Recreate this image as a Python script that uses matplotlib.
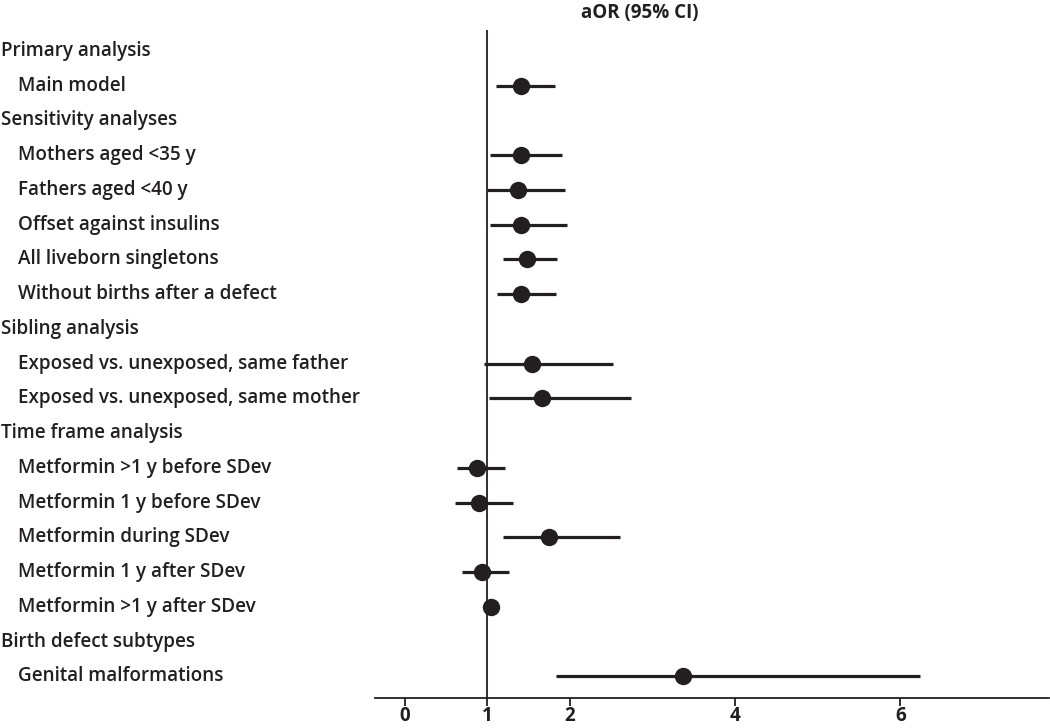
import matplotlib
matplotlib.use("Agg")
import matplotlib.pyplot as plt
import matplotlib.transforms as mtransforms

plt.rcParams['font.family'] = ['Open Sans', 'DejaVu Sans']

# rows: (label, is_heading)
labels = [
    "Primary analysis",
    "Main model",
    "Sensitivity analyses",
    "Mothers aged <35 y",
    "Fathers aged <40 y",
    "Offset against insulins",
    "All liveborn singletons",
    "Without births after a defect",
    "Sibling analysis",
    "Exposed vs. unexposed, same father",
    "Exposed vs. unexposed, same mother",
    "Time frame analysis",
    "Metformin >1 y before SDev",
    "Metformin 1 y before SDev",
    "Metformin during SDev",
    "Metformin 1 y after SDev",
    "Metformin >1 y after SDev",
    "Birth defect subtypes",
    "Genital malformations",
]
heading = [True, False, True, False, False, False, False, False, True, False, False,
           True, False, False, False, False, False, True, False]

# estimates (None for heading rows)
aor = [None, 1.41, None, 1.41, 1.37, 1.41, 1.48, 1.41, None, 1.54, 1.66,
       None, 0.87, 0.90, 1.75, 0.93, 1.05, None, 3.37]
ci_low = [None, 1.10, None, 1.03, 0.99, 1.03, 1.19, 1.12, None, 0.96, 1.02,
          None, 0.63, 0.61, 1.19, 0.69, 1.01, None, 1.83]
ci_high = [None, 1.82, None, 1.90, 1.94, 1.96, 1.84, 1.83, None, 2.52, 2.74,
           None, 1.21, 1.31, 2.61, 1.26, 1.09, None, 6.24]

xticks = [0, 1, 2, 4, 6]

ink = '#231f20'

fig = plt.figure(figsize=(10.5, 7.28), dpi=100)
ax = fig.add_axes([375 / 1050, 1 - 698 / 728, (1049 - 375) / 1050, (698 - 30) / 728])

for i, (est, lo, hi) in enumerate(zip(aor, ci_low, ci_high)):
    if est is None:
        continue
    ax.plot([lo, hi], [i, i], color=ink, lw=2.3, solid_capstyle='butt', zorder=3)
    ax.plot(est, i, 'o', color=ink, markersize=11.5, zorder=4)

ax.axvline(1, color=ink, lw=1.3, zorder=2)

ax.set_xlim(-0.36, 7.8)
ax.set_ylim(18.62, -0.6)
ax.set_yticks([])
ax.set_xticks(xticks)
ax.set_xticklabels([str(t) for t in xticks], fontsize=13.5, fontweight='bold', color=ink)
ax.tick_params(axis='x', direction='out', length=5.5, width=1.3, color=ink, pad=0.5)
for s in ['top', 'right', 'left']:
    ax.spines[s].set_visible(False)
ax.spines['bottom'].set_linewidth(1.3)
ax.spines['bottom'].set_color(ink)

trans = mtransforms.blended_transform_factory(fig.transFigure, ax.transData)
for i, (lab, h) in enumerate(zip(labels, heading)):
    x = 1 / 1050 if h else 18 / 1050
    ax.text(x, i, lab, transform=trans, ha='left', va='center', fontsize=13.6,
            fontweight='semibold', color=ink, clip_on=False)

fig.text(640 / 1050, 1 - 13 / 728, "aOR (95% CI)", ha='center', va='center',
         fontsize=13.5, fontweight='bold', color=ink)

fig.savefig("out.png", dpi=100)
plt.close(fig)
